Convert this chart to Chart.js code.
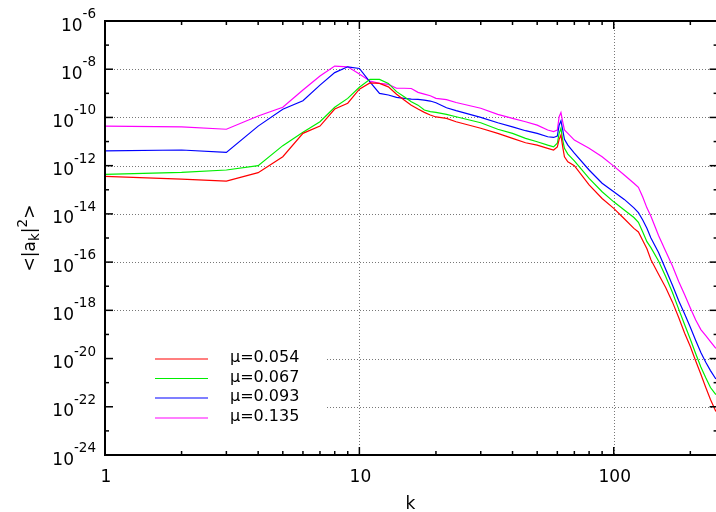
<!DOCTYPE html>
<html>
<head>
<meta charset="utf-8">
<script src="https://cdn.jsdelivr.net/npm/chart.js@4.4.0/dist/chart.umd.min.js"></script>
<style>
    html, body { margin: 0; padding: 0; background: #fff; overflow: hidden; }
    #wrap { width: 720px; height: 512px; }
</style>
</head>
<body>
<div id="wrap"><canvas id="chart" width="720" height="512"></canvas></div>
<script>
// wavenumbers k (x axis)
const kValues = [1, 2, 3, 4, 5, 6, 7, 8, 9, 10, 11, 12, 13, 14, 15, 16, 17, 18, 19, 20, 22, 24,
    30, 35, 40, 45, 50, 55, 58, 60, 61, 62, 63, 64, 66, 70, 80, 90,
    100, 110, 120, 125, 130, 135, 140, 150, 160, 170, 180, 190, 200, 210, 220, 230, 240, 252];

// log10 of <|a_k|^2>
const logMu054 = [-12.44, -12.56, -12.64, -12.29, -11.63, -10.66, -10.36, -9.65, -9.41, -8.83,
    -8.57, -8.59, -8.73, -9.04, -9.28, -9.49, -9.65, -9.79, -9.90, -9.98, -10.04, -10.18,
    -10.45, -10.66, -10.87, -11.05, -11.15, -11.28, -11.35, -11.22, -10.91, -10.73, -11.22, -11.63, -11.84,
    -12.00, -12.80, -13.36,
    -13.77, -14.20, -14.60, -14.75, -15.10, -15.45, -15.90,
    -16.50, -17.05, -17.65, -18.30, -18.95, -19.50, -20.10, -20.65, -21.20, -21.70, -22.20];
const logMu067 = [-12.36, -12.28, -12.18, -12.00, -11.17, -10.61, -10.18, -9.58, -9.21, -8.75,
    -8.42, -8.42, -8.59, -8.93, -9.14, -9.35, -9.49, -9.69, -9.76, -9.79, -9.87, -9.97,
    -10.22, -10.49, -10.66, -10.87, -11.01, -11.15, -11.22, -11.07, -10.66, -10.45, -10.94, -11.28, -11.52,
    -11.80, -12.53, -13.08,
    -13.50, -13.84, -14.15, -14.35, -14.75, -15.15, -15.40,
    -15.95, -16.60, -17.25, -17.95, -18.60, -19.20, -19.80, -20.35, -20.80, -21.20, -21.50];
const logMu093 = [-11.39, -11.35, -11.45, -10.36, -9.66, -9.31, -8.66, -8.14, -7.90, -7.97,
    -8.52, -9.00, -9.07, -9.17, -9.21, -9.24, -9.25, -9.28, -9.32, -9.39, -9.60, -9.72,
    -10.00, -10.22, -10.39, -10.55, -10.66, -10.80, -10.83, -10.77, -10.32, -10.14, -10.52, -10.91, -11.15,
    -11.48, -12.18, -12.73,
    -13.08, -13.40, -13.75, -13.95, -14.25, -14.60, -15.00,
    -15.60, -16.30, -16.95, -17.60, -18.15, -18.70, -19.25, -19.75, -20.15, -20.50, -20.85];
const logMu135 = [-10.36, -10.39, -10.49, -9.94, -9.58, -8.86, -8.28, -7.87, -7.90, -8.20,
    -8.49, -8.59, -8.63, -8.79, -8.79, -8.80, -8.96, -9.03, -9.10, -9.21, -9.26, -9.38,
    -9.62, -9.87, -10.04, -10.18, -10.32, -10.52, -10.59, -10.52, -9.97, -9.80, -10.18, -10.52, -10.66,
    -10.94, -11.28, -11.63,
    -12.02, -12.39, -12.73, -12.90, -13.30, -13.75, -14.10,
    -14.90, -15.55, -16.15, -16.80, -17.35, -17.90, -18.40, -18.80, -19.05, -19.30, -19.58];

const seriesNames = ['μ=0.054', 'μ=0.067', 'μ=0.093', 'μ=0.135'];
const seriesColors = ['#ff0000', '#00ee00', '#0000ff', '#ff00ff'];
const seriesLogs = [logMu054, logMu067, logMu093, logMu135];

// axis ticks
const xMajor = [1, 10, 100];
const xMinor = [2, 3, 4, 5, 6, 7, 8, 9, 20, 30, 40, 50, 60, 70, 80, 90, 200];
const yMajorExp = [-6, -8, -10, -12, -14, -16, -18, -20, -22, -24];
const yMinorExp = [-7, -9, -11, -13, -15, -17, -19, -21, -23];

const FONT = '"DejaVu Sans", sans-serif';

const datasets = seriesLogs.map((logs, i) => ({
    label: seriesNames[i],
    data: kValues.map((k, j) => ({ x: k, y: Math.pow(10, logs[j]) })),
    borderColor: seriesColors[i],
    borderWidth: 1.2,
    pointRadius: 0,
    fill: false,
    tension: 0
}));

function line(ctx, x1, y1, x2, y2) {
    ctx.beginPath();
    ctx.moveTo(x1, y1);
    ctx.lineTo(x2, y2);
    ctx.stroke();
}

// gnuplot-like frame, ticks, grid and labels
const gnuplotFrame = {
    id: 'gnuplotFrame',
    beforeDatasetsDraw(chart) {
        const { ctx, chartArea: a, scales: { x, y } } = chart;
        ctx.save();
        ctx.strokeStyle = '#777';
        ctx.lineWidth = 1;
        ctx.setLineDash([1, 2]);
        xMajor.slice(1).forEach(v => {
            const px = Math.round(x.getPixelForValue(v)) + 0.5;
            line(ctx, px, a.top, px, a.bottom);
        });
        yMajorExp.slice(1, -1).forEach(e => {
            const py = Math.round(y.getPixelForValue(Math.pow(10, e))) + 0.5;
            line(ctx, a.left, py, a.right, py);
        });
        ctx.restore();
    },
    afterDatasetsDraw(chart) {
        const { ctx, chartArea: a, scales: { x, y } } = chart;
        ctx.save();

        // legend box (covers the grid)
        ctx.fillStyle = '#fff';
        ctx.fillRect(a.left + 2, 335, 326 - a.left - 2, 100);
        const legendY = [359, 378.5, 398, 418];
        ctx.font = '16px ' + FONT;
        ctx.textBaseline = 'middle';
        ctx.textAlign = 'left';
        seriesNames.forEach((name, i) => {
            ctx.strokeStyle = seriesColors[i];
            ctx.lineWidth = 1.2;
            line(ctx, 155, legendY[i], 208, legendY[i]);
            ctx.fillStyle = '#000';
            ctx.fillText(name, 230, legendY[i] - 1);
        });

        // frame
        ctx.strokeStyle = '#000';
        ctx.lineWidth = 2;
        ctx.strokeRect(a.left, a.top, a.right - a.left, a.bottom - a.top);

        // ticks
        ctx.lineWidth = 1.5;
        xMajor.concat(xMinor).forEach(v => {
            const len = xMajor.includes(v) ? 8 : 4;
            const px = x.getPixelForValue(v);
            line(ctx, px, a.bottom, px, a.bottom - len);
            line(ctx, px, a.top, px, a.top + len);
        });
        yMajorExp.concat(yMinorExp).forEach(e => {
            const len = yMajorExp.includes(e) ? 8 : 4;
            const py = y.getPixelForValue(Math.pow(10, e));
            line(ctx, a.left, py, a.left + len, py);
            line(ctx, a.right, py, a.right - len, py);
        });

        // y tick labels 10^e
        ctx.fillStyle = '#000';
        ctx.textBaseline = 'alphabetic';
        ctx.textAlign = 'left';
        yMajorExp.forEach(e => {
            const py = y.getPixelForValue(Math.pow(10, e));
            ctx.font = '17px ' + FONT;
            const wBase = ctx.measureText('10').width;
            ctx.font = '13.5px ' + FONT;
            const sup = String(e);
            const wSup = ctx.measureText(sup).width;
            const x0 = 96 - wBase - wSup;
            ctx.font = '17px ' + FONT;
            ctx.fillText('10', x0, py + 9.5);
            ctx.font = '13.5px ' + FONT;
            ctx.fillText(sup, x0 + wBase, py - 3);
        });

        // x tick labels
        ctx.font = '17px ' + FONT;
        ctx.textAlign = 'center';
        xMajor.forEach(v => {
            ctx.fillText(String(v), x.getPixelForValue(v) + 1, 481.5);
        });

        // x title
        ctx.fillText('k', (a.left + 716) / 2, 509);

        // y title <|a_k|^2>
        ctx.translate(35, (a.top + a.bottom) / 2);
        ctx.rotate(-Math.PI / 2);
        ctx.textAlign = 'left';
        const parts = [
            { t: '<|a', f: 17, dy: 0 },
            { t: 'k', f: 13.5, dy: 4 },
            { t: '|', f: 17, dy: 0 },
            { t: '2', f: 13.5, dy: -8 },
            { t: '>', f: 17, dy: 0 }
        ];
        let total = 0;
        parts.forEach(p => { ctx.font = p.f + 'px ' + FONT; p.w = ctx.measureText(p.t).width; total += p.w; });
        let cx = -total / 2;
        parts.forEach(p => {
            ctx.font = p.f + 'px ' + FONT;
            ctx.fillText(p.t, cx, p.dy);
            cx += p.w;
        });

        ctx.restore();
    }
};

new Chart(document.getElementById('chart'), {
    type: 'line',
    data: { datasets: datasets },
    options: {
        responsive: false,
        devicePixelRatio: 1,
        animation: false,
        layout: { padding: { top: 21, right: 2.4, left: 0, bottom: 0 } },
        plugins: { legend: { display: false }, tooltip: { enabled: false } },
        scales: {
            x: {
                type: 'logarithmic',
                min: 1,
                max: 256,
                grid: { display: false },
                border: { display: false },
                ticks: { display: false },
                afterFit(scale) { scale.height = 57; }
            },
            y: {
                type: 'logarithmic',
                min: 1e-24,
                max: 1e-6,
                grid: { display: false },
                border: { display: false },
                ticks: { display: false },
                afterFit(scale) { scale.width = 105; }
            }
        }
    },
    plugins: [gnuplotFrame]
});
</script>
</body>
</html>
